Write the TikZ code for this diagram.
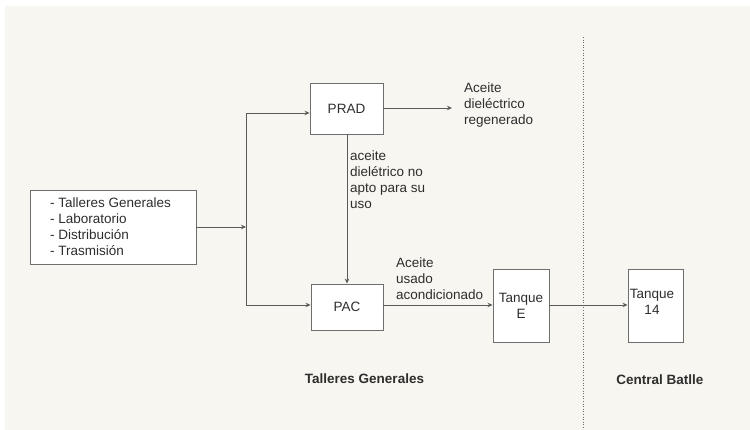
\documentclass[tikz,border=0pt]{standalone}
\usepackage{fontspec}
\setmainfont{Liberation Sans}
\usetikzlibrary{arrows.meta}
\definecolor{bgbeige}{HTML}{F8F6F0}
\definecolor{linegray}{HTML}{5A5A5A}
\definecolor{boxgray}{HTML}{6E6E6E}
\definecolor{txtgray}{HTML}{2E2E2E}
\tikzset{
  txt/.style={font=\fontsize{13.5}{16}\selectfont, text=txtgray, inner sep=0pt, align=left},
  boldtxt/.style={font=\fontsize{13.5}{16}\selectfont\bfseries, text=txtgray, inner sep=0pt},
  blk/.style={draw=boxgray, line width=0.9pt, fill=white, font=\fontsize{13.5}{16}\selectfont, text=txtgray, align=center, inner sep=0pt},
  conn/.style={draw=linegray, line width=0.8pt},
  arr/.style={conn, -{Stealth[length=5pt,width=4.5pt]}},
}
\begin{document}
\begin{tikzpicture}[x=1pt,y=-1pt]
\useasboundingbox (0,0) rectangle (750,430);
\fill[white] (0,0) rectangle (750,430);
\fill[bgbeige] (5,6) rectangle (750,430);
% divider
\draw[boxgray, line width=0.6pt, dotted] (583.5,37) -- (583.5,430);
% boxes
\node[blk, minimum width=166pt, minimum height=74pt] (src) at (113,227) {};
\node[txt, anchor=west] (srct) at (50,227) {- Talleres Generales\\- Laboratorio\\- Distribución\\- Trasmisión};
\node[blk, minimum width=73pt, minimum height=51pt] (prad) at (346.5,108.5) {PRAD};
\node[blk, minimum width=72pt, minimum height=46pt] (pac) at (347,307) {PAC};
\node[blk, minimum width=56pt, minimum height=73pt] (tqe) at (521,305.5) {Tanque\\E};
\node[blk, minimum width=55pt, minimum height=73pt] (tq14) at (655.5,305.5) {};
\node[txt, align=center] (tq14t) at (652,302) {Tanque\\14};
% junction coordinates
\coordinate (jm) at (246,227);
\coordinate (jt) at (246,113);
\coordinate (jb) at (246,305);
\coordinate (regend) at (452,108);
% connectors
\draw[arr] (src.east |- jm) -- (jm);
\draw[conn] (jt) -- (jb);
\draw[arr] (jt) -- (prad.west |- jt);
\draw[arr] (jb) -- (pac.west |- jb);
\draw[arr] (prad.east |- regend) -- (regend);
\draw[arr] (prad.south -| 347,0) -- (pac.north -| 347,0);
\draw[arr] (pac.east |- jb) -- (tqe.west |- jb);
\draw[arr] (tqe.east |- jb) -- (tq14.west |- jb);
% labels
\node[txt, anchor=west] (lreg) at (464,105) {Aceite\\dieléctrico\\regenerado};
\node[txt, anchor=west] (lno) at (350,180) {aceite\\dielétrico no\\apto para su\\uso};
\node[txt, anchor=west] (lus) at (396,279) {Aceite\\usado\\acondicionado};
\node[boldtxt] (ltg) at (364.5,379) {Talleres Generales};
\node[boldtxt] (lcb) at (660,380) {Central Batlle};
\end{tikzpicture}
\end{document}
